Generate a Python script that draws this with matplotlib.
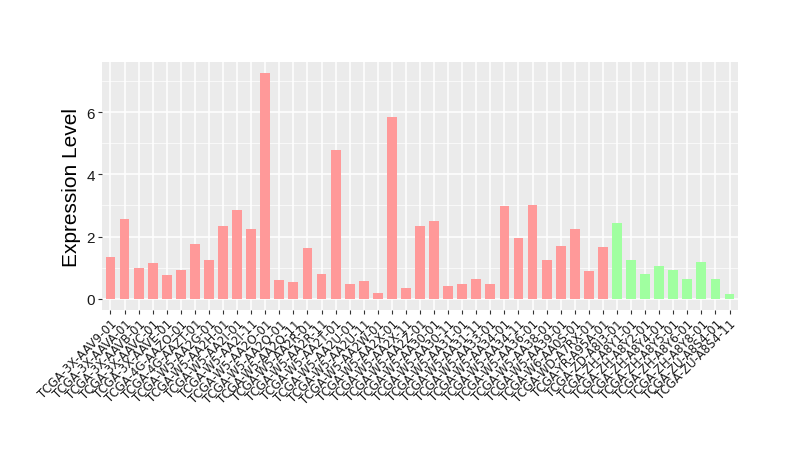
import matplotlib
matplotlib.use("Agg")
import matplotlib.pyplot as plt
import numpy as np

samples = [
    "TCGA-3X-AAV9-01", "TCGA-3X-AAVA-01", "TCGA-3X-AAVB-01", "TCGA-3X-AAVC-01",
    "TCGA-3X-AAVE-01", "TCGA-4G-AAZO-01", "TCGA-4G-AAZT-01", "TCGA-W5-AA2G-01",
    "TCGA-W5-AA2H-01", "TCGA-W5-AA2I-01", "TCGA-W5-AA2I-11", "TCGA-W5-AA2O-01",
    "TCGA-W5-AA2Q-01", "TCGA-W5-AA2Q-11", "TCGA-W5-AA2R-01", "TCGA-W5-AA2R-11",
    "TCGA-W5-AA2T-01", "TCGA-W5-AA2U-01", "TCGA-W5-AA2U-11", "TCGA-W5-AA2W-01",
    "TCGA-W5-AA2X-01", "TCGA-W5-AA2X-11", "TCGA-W5-AA2Z-01", "TCGA-W5-AA30-01",
    "TCGA-W5-AA30-11", "TCGA-W5-AA31-01", "TCGA-W5-AA31-11", "TCGA-W5-AA33-01",
    "TCGA-W5-AA34-01", "TCGA-W5-AA34-11", "TCGA-W5-AA36-01", "TCGA-W5-AA38-01",
    "TCGA-W5-AA39-01", "TCGA-W6-AA0S-01", "TCGA-WD-A7RX-01", "TCGA-YR-A95A-01",
    "TCGA-ZD-A8I3-01", "TCGA-ZH-A8Y1-01", "TCGA-ZH-A8Y2-01", "TCGA-ZH-A8Y4-01",
    "TCGA-ZH-A8Y5-01", "TCGA-ZH-A8Y6-01", "TCGA-ZH-A8Y8-01", "TCGA-ZU-A8S4-01",
    "TCGA-ZU-A8S4-11",
]

expression = [
    1.33, 2.58, 0.98, 1.14, 0.75, 0.94, 1.75, 1.26, 2.33, 2.84,
    2.23, 7.25, 0.59, 0.53, 1.62, 0.78, 4.77, 0.49, 0.56, 0.17,
    5.86, 0.36, 2.33, 2.49, 0.40, 0.49, 0.62, 0.46, 2.97, 1.94,
    3.03, 1.26, 1.71, 2.23, 0.88, 1.65,
    2.45, 1.23, 0.81, 1.04, 0.94, 0.62, 1.17, 0.65, 0.14,
]

group = ["A"] * 36 + ["B"] * 9
group_colors = {"A": "#FF9999", "B": "#A0FFA0"}

fig = plt.figure(figsize=(8, 4.64), dpi=100)
ax = fig.add_axes([0.1275, 0.3297, 0.795, 0.5345])

ax.set_facecolor("#EBEBEB")
x = np.arange(len(samples))
ax.bar(x, expression, width=0.7, color=[group_colors[g] for g in group], zorder=3)

n = len(samples)
ax.set_xlim(-0.6, n - 1 + 0.6)
ymax = max(expression)
ax.set_ylim(-0.05 * ymax, ymax * 1.05)

ax.set_yticks([0, 2, 4, 6])
ax.set_yticks([1, 3, 5, 7], minor=True)
ax.set_xticks(x)
ax.set_xticklabels(samples, rotation=45, ha="right", rotation_mode="anchor",
                   fontsize=8.5, color="#1a1a1a", family="DejaVu Sans")
ax.tick_params(axis="x", which="major", length=3, color="#333333", pad=2)
ax.tick_params(axis="y", which="major", length=3, color="#333333", labelsize=11,
               labelcolor="#1a1a1a", pad=2)
ax.tick_params(axis="y", which="minor", length=0)
for lab in ax.get_yticklabels():
    lab.set_family("Liberation Sans")

ax.grid(True, which="major", color="white", linewidth=1.1, zorder=0)
ax.grid(True, which="minor", axis="y", color="white", linewidth=0.5, zorder=0)
ax.set_axisbelow(True)
for s in ax.spines.values():
    s.set_visible(False)

ax.set_ylabel("Expression Level", fontsize=15, family="Liberation Sans", labelpad=4)

fig.savefig("out.png", dpi=100)
